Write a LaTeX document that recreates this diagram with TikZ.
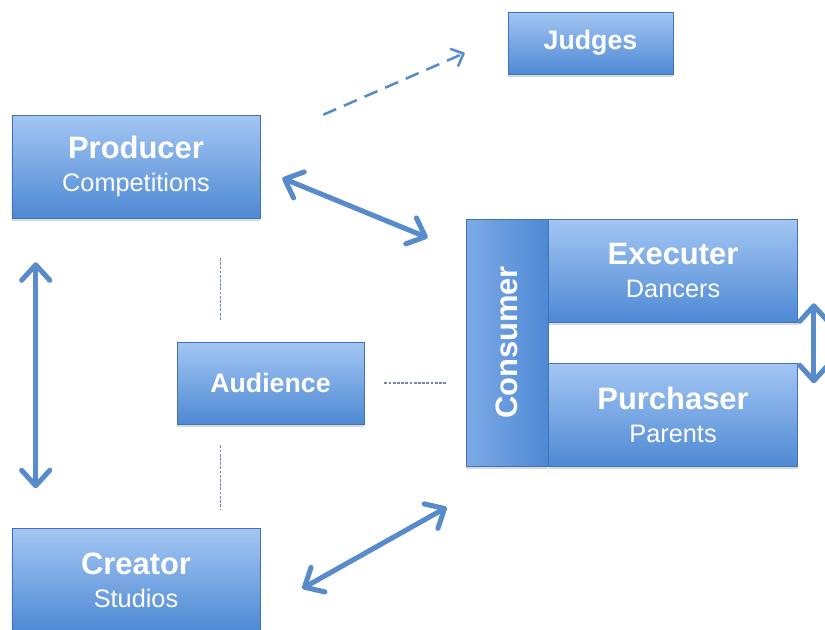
\documentclass[tikz,border=0pt]{standalone}
\usepackage{fontspec}
\setmainfont{Liberation Sans}
\usetikzlibrary{arrows.meta}
\usetikzlibrary{positioning}
\usetikzlibrary{shadows}

\newcommand{\boxtitle}[1]{{\fontsize{22}{26}\selectfont\bfseries #1}}
\newcommand{\boxsub}[1]{{\fontsize{18}{22}\selectfont #1}}

\begin{document}
\begin{tikzpicture}[box/.style={
      rectangle,
      draw=bedge,
      top color=btop,
      bottom color=bbot,
      text=white,
      align=center,
      inner sep=0pt,
      font=\fontsize{18}{23.5}\selectfont,
      drop shadow={shadow xshift=0pt,shadow yshift=-2pt,opacity=.3}
    },
    strip/.style={
      box,
      left color=bmid,
      right color=bbot
    },
    twoway/.style={
      {Straight Barb[length=11pt,width=20pt,round]}-{Straight Barb[length=11pt,width=20pt,round]},
      line width=3.6pt,
      line cap=round,
      arrblue
    },
    hint/.style={
      dash pattern=on 2pt off 1pt,
      line width=.8pt,
      dotgray
    }]

\definecolor{btop}{RGB}{163,198,243}
\definecolor{bmid}{RGB}{125,170,230}
\definecolor{bbot}{RGB}{78,137,212}
\definecolor{bedge}{RGB}{64,114,180}
\definecolor{arrblue}{RGB}{88,139,202}
\definecolor{dotgray}{RGB}{118,134,160}

\useasboundingbox (0,0) rectangle (20.625,-15.75);

\node[box, minimum width=4.125cm, minimum height=1.55cm] (judg) at (14.7625,-1.075) {\boxtitle{\fontsize{19}{22}\selectfont Judges}};
\node[box, minimum width=6.2cm, minimum height=2.575cm] (prod) at (3.4,-4.1625) {\boxtitle{Producer}\\\boxsub{Competitions}};
\node[box, minimum width=6.2cm, minimum height=2.575cm, below=7.75cm of prod] (crea) {\boxtitle{Creator}\\\boxsub{Studios}};
\node[box, minimum width=4.675cm, minimum height=2.05cm] (aud) at (6.7625,-9.575) {\boxtitle{\fontsize{19}{22}\selectfont Audience}};

% consumer block: side strip plus the two roles
\node[strip, minimum width=2.05cm, minimum height=6.175cm] (cons) at (12.675,-8.5625) {};
\node[rotate=90, text=white, font=\fontsize{22}{26}\selectfont\bfseries] (conslbl) at (cons) {Consumer};
\node[box, minimum width=6.225cm, minimum height=2.575cm, anchor=north west] (exec) at (cons.north east) {\boxtitle{Executer}\\\boxsub{Dancers}};
\node[box, minimum width=6.225cm, minimum height=2.575cm, below=1.025cm of exec] (purc) {\boxtitle{Purchaser}\\\boxsub{Parents}};

\draw[twoway] ([xshift=0.6cm,yshift=-1.1cm]prod.south west) -- ([xshift=0.6cm,yshift=1cm]crea.north west);
\draw[twoway] ([xshift=0.55cm,yshift=-0.29cm]prod.east) -- ([xshift=-0.95cm,yshift=-0.475cm]cons.north west);
\draw[twoway] ([xshift=1.05cm,yshift=-0.21cm]crea.east) -- ([xshift=-0.475cm,yshift=-1.025cm]cons.south west);
\draw[twoway] ([xshift=0.4cm,yshift=0.475cm]exec.south east) -- ([xshift=0.4cm,yshift=-0.5cm]purc.north east);

\draw[-{Straight Barb[length=7pt,width=13pt,round]},line width=1.8pt,dash pattern=on 10pt off 6pt,arrblue] ([xshift=1.575cm]prod.north east) -- ([xshift=-1.075cm,yshift=-0.25cm]judg.west);

\draw[hint] ([xshift=-1.25cm,yshift=0.55cm]aud.north) -- ([xshift=-1.25cm,yshift=2.1cm]aud.north);
\draw[hint] ([xshift=-1.25cm,yshift=-0.525cm]aud.south) -- ([xshift=-1.25cm,yshift=-2.15cm]aud.south);
\draw[hint] ([xshift=0.5cm]aud.east) -- ([xshift=2.05cm]aud.east);

\end{tikzpicture}
\end{document}
